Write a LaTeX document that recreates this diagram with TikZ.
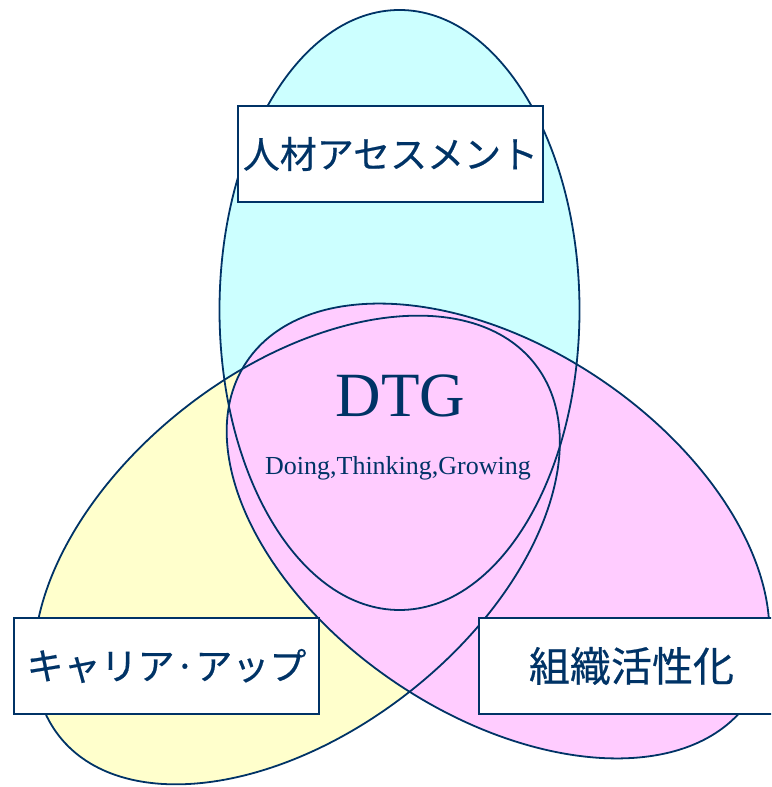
\documentclass[tikz,border=0pt]{standalone}
\usepackage{fontspec}
\setmainfont{Liberation Serif}
\newfontfamily\jpfont[FakeBold=0.5]{Noto Sans CJK JP}
\definecolor{navy}{HTML}{003366}
\definecolor{cyanfill}{HTML}{CCFFFF}
\definecolor{yellowfill}{HTML}{FFFFCC}
\definecolor{pinkfill}{HTML}{FFCCFF}
\begin{document}
\begin{tikzpicture}[x=1pt,y=1pt,
  vennline/.style={draw=navy, line width=1.8pt},
  labelbox/.style={draw=navy, fill=white, line width=1.5pt, minimum width=305pt,
    minimum height=96pt, inner sep=0pt, text=navy, font=\jpfont\fontsize{37}{44}\selectfont},
  bigtext/.style={text=navy, inner sep=0pt, anchor=base, font=\fontsize{63}{63}\selectfont},
  subtext/.style={text=navy, inner sep=0pt, anchor=base, font=\fontsize{26}{26}\selectfont}
]
\useasboundingbox (0,0) rectangle (771,787);
\clip (0,0) rectangle (771,787);
% fills
\fill[cyanfill] (399.5,477) ellipse [x radius=180, y radius=300];
\fill[yellowfill, rotate around={38:(297,237)}] (297,237) ellipse [x radius=302, y radius=181];
\fill[pinkfill, rotate around={-34:(498,256)}] (498,256) ellipse [x radius=303, y radius=183];
% outlines
\draw[vennline] (399.5,477) ellipse [x radius=180, y radius=300];
\draw[vennline, rotate around={38:(297,237)}] (297,237) ellipse [x radius=302, y radius=181];
\draw[vennline, rotate around={-34:(498,256)}] (498,256) ellipse [x radius=303, y radius=183];
% texts
\node[bigtext] (dtg) at (400.5,370.3) {DTG};
\node[subtext] (sub) at (398,312) {Doing,Thinking,Growing};
% label boxes
\node[labelbox] (assess) at (390.5,633) {人材アセスメント};
\node[labelbox] (career) at (166.5,121) {キャリア·アップ};
\node[labelbox, font=\jpfont\fontsize{41}{46}\selectfont] (org) at (631.5,121) {組織活性化};
\end{tikzpicture}
\end{document}
